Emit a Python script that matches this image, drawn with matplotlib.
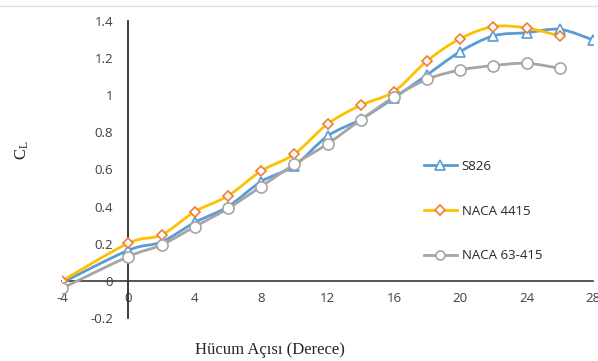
import matplotlib

matplotlib.use("Agg")
import matplotlib.pyplot as plt
import numpy as np
from matplotlib.lines import Line2D
from matplotlib.patches import PathPatch
from matplotlib.path import Path

plt.rcParams["axes.unicode_minus"] = False

# Angle of attack (degrees) and lift coefficient per airfoil
alpha = [-4, 0, 2, 4, 6, 8, 10, 12, 14, 16, 18, 20, 22, 24, 26]
alpha_s826 = alpha + [28]

cl_s826 = [-0.01, 0.165, 0.21, 0.315, 0.40, 0.535, 0.62, 0.78, 0.87, 0.985,
           1.11, 1.235, 1.32, 1.337, 1.355, 1.298]
cl_naca4415 = [0.0, 0.203, 0.248, 0.373, 0.458, 0.592, 0.683, 0.845, 0.946,
               1.02, 1.185, 1.305, 1.37, 1.362, 1.32]
cl_naca63415 = [-0.04, 0.131, 0.194, 0.292, 0.39, 0.508, 0.628, 0.738, 0.867,
                0.99, 1.086, 1.136, 1.16, 1.172, 1.145]

# label, x, y, line colour, marker edge colour, marker, size, legend size
SERIES = [
    ("S826", alpha_s826, cl_s826, "#5B9BD5", "#5B9BD5", "^", 7, 6.5),
    ("NACA 4415", alpha, cl_naca4415, "#FFC000", "#ED7D31", "D", 5.5, 5),
    ("NACA 63-415", alpha, cl_naca63415, "#A5A5A5", "#A5A5A5", "o", 8, 6.5),
]

TICK_FONT = "Open Sans"
SERIF = "Liberation Serif"


def smooth_path(x, y):
    """Catmull-Rom style Bezier through the points (spreadsheet 'smoothed line')."""
    pts = np.column_stack([x, y]).astype(float)
    n = len(pts)
    verts = [pts[0]]
    codes = [Path.MOVETO]
    for i in range(n - 1):
        p0 = pts[i - 1] if i > 0 else pts[i]
        p1, p2 = pts[i], pts[i + 1]
        p3 = pts[i + 2] if i + 2 < n else pts[i + 1]
        c1 = p1 + (p2 - p0) / 6.0
        c2 = p2 - (p3 - p1) / 6.0
        verts += [c1, c2, p2]
        codes += [Path.CURVE4] * 3
    return Path(verts, codes)


fig = plt.figure(figsize=(5.98, 3.61), dpi=100)
ax = fig.add_axes([62 / 598, 1 - 318 / 361, (593 - 62) / 598, (318 - 21) / 361])

handles = []
for label, xs, ys, lc, mc, mk, ms, lms in SERIES:
    ax.add_patch(PathPatch(smooth_path(xs, ys), facecolor="none", edgecolor=lc,
                           lw=2.0, capstyle="round", zorder=3))
    ax.plot(xs, ys, ls="none", marker=mk, ms=ms, mfc="white", mec=mc, mew=1.2,
            zorder=4)
    handles.append(Line2D([], [], color=lc, lw=2.0, marker=mk, ms=lms,
                          mfc="white", mec=mc, mew=1.2, label=label))

ax.set_xlim(-4, 28)
ax.set_ylim(-0.2, 1.4)
ax.set_xticks(range(-4, 29, 4))
ax.set_yticks(np.arange(-0.2, 1.41, 0.2))
ax.set_yticklabels(["-0.2", "0", "0.2", "0.4", "0.6", "0.8", "1", "1.2", "1.4"])

# axes cross at the origin
ax.spines["left"].set_position(("data", 0))
ax.spines["bottom"].set_position(("data", 0))
ax.spines["top"].set_visible(False)
ax.spines["right"].set_visible(False)
ax.spines["left"].set_color("#1a1a1a")
ax.spines["bottom"].set_color("#3a3a3a")
ax.spines["left"].set_linewidth(1.2)
ax.spines["bottom"].set_linewidth(1.2)
ax.tick_params(axis="x", length=0, pad=8, labelsize=9.5, labelcolor="#404040")
ax.tick_params(axis="y", length=0, pad=11, labelsize=9.5, labelcolor="#404040")
for t in ax.get_xticklabels() + ax.get_yticklabels():
    t.set_fontfamily(TICK_FONT)

leg = ax.legend(handles=handles, loc="upper left",
                bbox_to_anchor=(424 / 598, 1 - 160 / 361),
                bbox_transform=fig.transFigure, frameon=False, numpoints=1,
                handlelength=2.5, handletextpad=0.35, labelspacing=2.4,
                borderpad=0, borderaxespad=0,
                prop={"family": TICK_FONT, "size": 9.5})
for t in leg.get_texts():
    t.set_color("#262626")

fig.text(22 / 598, 1 - 150 / 361, r"$\mathregular{C_L}$", rotation=90,
         ha="center", va="center", fontsize=12, family=SERIF, color="#262626")
fig.text(270 / 598, 1 - 350 / 361, "Hücum Açısı (Derece)", ha="center",
         va="center", fontsize=12, family=SERIF, color="#262626")

# thin frame line along the top edge
fig.add_artist(Line2D([0, 1], [1 - 6 / 361] * 2, color="#e0e0e0", lw=1.0,
                      transform=fig.transFigure))

fig.savefig("out.png", dpi=100)
